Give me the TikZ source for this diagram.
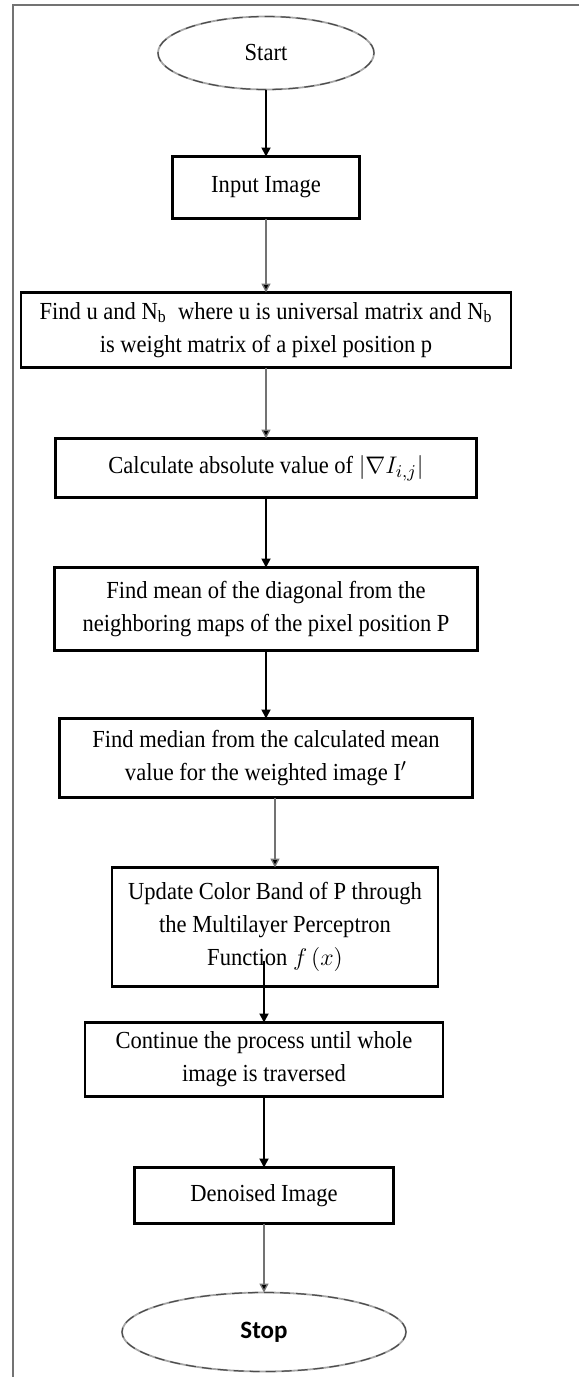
\documentclass[tikz,border=0pt]{standalone}
\usepackage{fontspec}
\setmainfont{Liberation Serif}[FakeStretch=0.92]
\newfontfamily\stopfont{Carlito}
\usepackage{tikz}
\usetikzlibrary{positioning,arrows.meta,shapes.geometric,calc}
\tikzset{
  procbox/.style={rectangle, draw, line width=1.1pt, align=center, inner sep=2pt, outer sep=0pt,
                  font=\fontsize{12.25}{16.5}\selectfont},
  termnode/.style={ellipse, draw=black!35, line width=0.9pt, inner sep=1pt, outer sep=0pt,
                   postaction={draw=black!70, line width=0.6pt, dash pattern=on 5pt off 3pt}}, % dashed-looking rim
  flow/.style={-{Triangle[length=4.5pt,width=4.5pt]}, line width=0.9pt},
  flowgray/.style={flow, draw=black!55, line width=0.7pt,
                   -{Triangle[length=4.5pt,width=4.5pt,fill=black]}},
}
\begin{document}
\begin{tikzpicture}
  \useasboundingbox (0,0) rectangle (289.5pt,-688.5pt);
  % frame of the figure
  \draw[black!55, line width=0.6pt] (289.5pt,-2.5pt) -- (6.5pt,-2.5pt) -- (6.5pt,-688.5pt);

  \node[termnode, minimum width=108pt, minimum height=36.5pt,
        font=\fontsize{12.25}{14}\selectfont] (start) at (133pt,-26.5pt) {Start};
  \node[procbox, minimum width=93.5pt, minimum height=31pt] (input) [below=33.5pt of start] {Input Image};
  \node[procbox, minimum width=245pt, minimum height=37.5pt] (findu) [below=37pt of input]
    {Find u and N\textsubscript{b}\ \ where u is universal matrix and N\textsubscript{b}\\
     is weight matrix of a pixel position p};
  \node[procbox, minimum width=210.5pt, minimum height=29.5pt] (calc) [below=35.5pt of findu]
    {Calculate absolute value of $\left|\nabla I_{i,j}\right|$};
  \node[procbox, minimum width=211.5pt, minimum height=41.5pt] (mean) [below=35pt of calc]
    {Find mean of the diagonal from the\\ neighboring maps of the pixel position P};
  \node[procbox, minimum width=206.5pt, minimum height=39.5pt] (median) [below=34pt of mean]
    {Find median from the calculated mean\\ value for the weighted image I$'$};
  \node[procbox, minimum width=163pt, minimum height=59.5pt] (update) [below=35pt of median, xshift=4.5pt]
    {Update Color Band of P through\\ the Multilayer Perceptron\\ Function $f\,(x)$};
  \node[procbox, minimum width=179pt, minimum height=37pt] (cont) [below=18pt of update, xshift=-5.5pt]
    {Continue the process until whole\\ image is traversed};
  \node[procbox, minimum width=129.5pt, minimum height=28pt] (denoised) [below=35.5pt of cont] {Denoised Image};
  \node[termnode, minimum width=142pt, minimum height=39.5pt,
        font=\stopfont\bfseries\fontsize{12.5}{14}\selectfont] (stop) [below=34.5pt of denoised] {Stop};

  \draw[flow] (start) -- (input);
  \draw[flowgray] (input) -- (findu);
  \draw[flowgray] (findu) -- (calc);
  \draw[flow] (calc) -- (mean);
  \draw[flow] (mean) -- (median);
  \draw[flowgray] (median.south -| update.north) -- (update.north);
  \draw[flow] ($(update.south -| cont.north)+(0,13pt)$) -- (cont.north);
  \draw[flow] (cont) -- (denoised);
  \draw[flowgray] (denoised) -- (stop);

\end{tikzpicture}
\end{document}
